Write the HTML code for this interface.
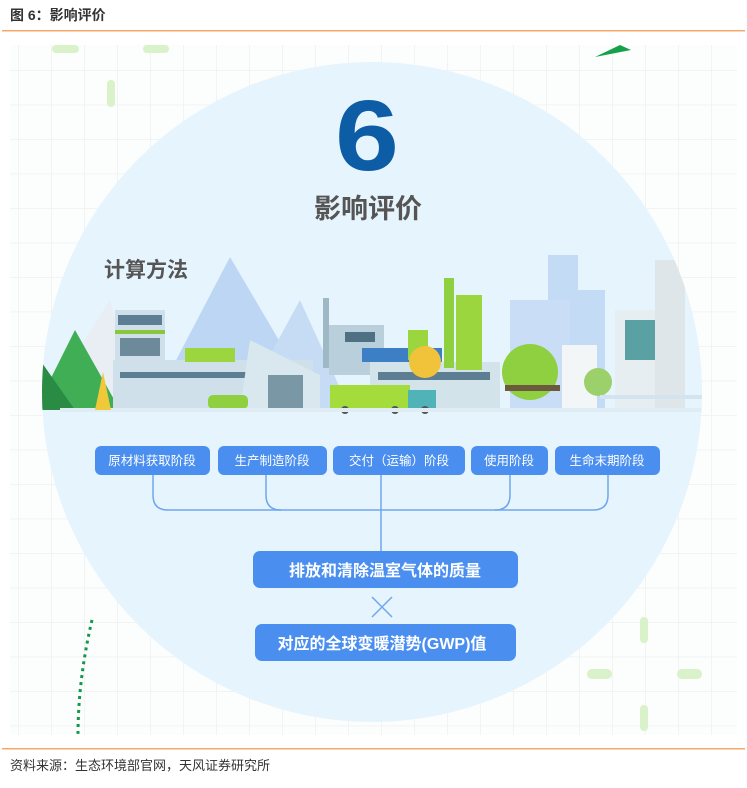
<!DOCTYPE html>
<html><head><meta charset="utf-8"><style>
body{margin:0;width:747px;height:783px;background:#fff;overflow:hidden;font-family:"Liberation Sans","Noto Sans CJK SC",sans-serif}
</style></head><body>
<svg width="747" height="783" viewBox="0 0 747 783" xmlns="http://www.w3.org/2000/svg" font-family="Liberation Sans, Noto Sans CJK SC, sans-serif">
<text x="10" y="20" font-size="14" font-weight="bold" fill="#333">图 6：影响评价</text>
<rect x="2" y="30" width="743" height="1.5" fill="#f4a86a"/>
<defs>
<pattern id="g" width="33" height="34.5" patternUnits="userSpaceOnUse" x="18" y="70"><path d="M0 0H33M0 0V34.5" stroke="#eef2f2" stroke-width="1.5" fill="none"/></pattern>
<clipPath id="c"><circle cx="372" cy="392" r="330"/></clipPath>
</defs>
<rect x="10" y="45" width="727" height="690" fill="#fcfdfd"/>
<rect x="10" y="45" width="727" height="690" fill="url(#g)"/>
<rect x="52" y="45" width="27" height="8" rx="4" fill="#d9f2c9"/>
<rect x="143" y="45" width="26" height="8" rx="4" fill="#d9f2c9"/>
<rect x="107" y="80" width="8" height="27" rx="4" fill="#d9f2c9"/>
<polygon points="595,57 620,45 631,50" fill="#16a04a"/>
<circle cx="372" cy="392" r="330" fill="#e6f4fd"/>
<rect x="640" y="617" width="8" height="26" rx="4" fill="#d9f2c9"/>
<rect x="587" y="669" width="25" height="10" rx="5" fill="#d9f2c9"/>
<rect x="677" y="669" width="25" height="10" rx="5" fill="#d9f2c9"/>
<rect x="640" y="705" width="8" height="26" rx="4" fill="#d9f2c9"/>
<path d="M92 620 Q78 680 78 735" stroke="#11994a" stroke-width="3" stroke-dasharray="3 4" fill="none"/>
<text x="0" y="0" font-size="100" font-weight="bold" fill="#0d5da6" text-anchor="middle" transform="translate(367,170) scale(1.15,1)">6</text>
<text x="368" y="218" font-size="27" font-weight="bold" fill="#555" text-anchor="middle">影响评价</text>
<text x="104" y="277" font-size="21" font-weight="bold" fill="#555">计算方法</text>
<g clip-path="url(#c)">
<polygon points="150,410 230,257 320,410" fill="#bcd6f3"/>
<polygon points="240,410 300,300 350,410" fill="#c6dcf5"/>
<polygon points="40,410 110,300 140,410" fill="#e8eef4"/>
<rect x="548" y="255" width="30" height="155" fill="#c4dbf5"/>
<rect x="510" y="300" width="60" height="110" fill="#c9ddf6"/>
<rect x="575" y="290" width="30" height="120" fill="#c4dbf5"/>
<polygon points="35,410 75,330 120,410" fill="#3fae55"/>
<polygon points="40,360 75,410 40,410" fill="#2a8b45"/>
<rect x="115" y="310" width="50" height="100" fill="#cfe0ea"/>
<rect x="118" y="315" width="44" height="10" fill="#5d7e92"/>
<rect x="115" y="330" width="50" height="4" fill="#8ac83b"/>
<rect x="120" y="338" width="40" height="18" fill="#6d8a9b"/>
<rect x="113" y="360" width="200" height="50" fill="#cfe0ea"/>
<rect x="120" y="372" width="150" height="6" fill="#5d7e92"/>
<rect x="185" y="348" width="50" height="14" fill="#9bd63e"/>
<polygon points="240,410 250,340 320,375 320,410" fill="#d8e8ee"/>
<rect x="268" y="375" width="35" height="35" fill="#7a97a6"/>
<rect x="208" y="395" width="40" height="14" rx="5" fill="#8ed040"/>
<rect x="323" y="298" width="6" height="70" fill="#9fb8c6"/>
<rect x="329" y="325" width="55" height="50" fill="#b9cfdc"/>
<rect x="345" y="332" width="30" height="10" fill="#4f6f83"/>
<rect x="362" y="348" width="80" height="14" fill="#3d7fc4"/>
<rect x="370" y="362" width="130" height="48" fill="#d3e3ea"/>
<rect x="378" y="372" width="112" height="8" fill="#5d7e92"/>
<rect x="444" y="278" width="10" height="90" fill="#8ed040"/>
<rect x="456" y="295" width="26" height="75" fill="#9bd63e"/>
<rect x="408" y="330" width="20" height="30" fill="#9bd63e"/>
<circle cx="425" cy="362" r="16" fill="#f1c33a"/>
<rect x="330" y="385" width="80" height="25" fill="#a4dc3c"/>
<rect x="408" y="390" width="28" height="18" fill="#4fb3b8"/>
<circle cx="345" cy="410" r="4" fill="#555"/><circle cx="395" cy="410" r="4" fill="#555"/><circle cx="425" cy="410" r="4" fill="#555"/>
<circle cx="530" cy="372" r="28" fill="#8ed040"/>
<rect x="505" y="385" width="55" height="6" fill="#6b5a3e"/>
<rect x="562" y="345" width="35" height="65" fill="#f3f6f7"/>
<circle cx="598" cy="382" r="14" fill="#9bd06a"/>
<rect x="615" y="310" width="45" height="100" fill="#e6eef1"/>
<rect x="625" y="320" width="30" height="40" fill="#5aa1a3"/>
<rect x="655" y="260" width="30" height="150" fill="#dfe6e9"/>
<rect x="600" y="395" width="110" height="4" fill="#d4e4ee"/>
<rect x="60" y="408" width="650" height="4" fill="#e0ecf3"/>
<polygon points="95,410 103,372 111,410" fill="#f0c93a"/>
</g>
<g font-size="12.5" fill="#fff" text-anchor="middle">
<rect x="95" y="446" width="115" height="29" rx="6" fill="#4a8ff0"/><text x="152" y="465">原材料获取阶段</text>
<rect x="218" y="446" width="109" height="29" rx="6" fill="#4a8ff0"/><text x="272" y="465">生产制造阶段</text>
<rect x="333" y="446" width="132" height="29" rx="6" fill="#4a8ff0"/><text x="399" y="465">交付（运输）阶段</text>
<rect x="471" y="446" width="77" height="29" rx="6" fill="#4a8ff0"/><text x="509" y="465">使用阶段</text>
<rect x="555" y="446" width="105" height="29" rx="6" fill="#4a8ff0"/><text x="607" y="465">生命末期阶段</text>
</g>
<g stroke="#6ea6ef" stroke-width="1.5" fill="none">
<path d="M153 475V495Q153 510 168 510H593Q608 510 608 495V475"/>
<path d="M266 475V495Q266 510 281 510"/>
<path d="M510 475V495Q510 510 495 510"/>
<path d="M381 475V551"/>
<path d="M372 597L392 617M392 597L372 617"/>
</g>
<rect x="253" y="551" width="265" height="37" rx="7" fill="#4a8ff0"/>
<text x="385" y="576" font-size="16" font-weight="bold" fill="#fff" text-anchor="middle">排放和清除温室气体的质量</text>
<rect x="255" y="624" width="261" height="37" rx="7" fill="#4a8ff0"/>
<text x="382" y="649" font-size="16" font-weight="bold" fill="#fff" text-anchor="middle">对应的全球变暖潜势(GWP)值</text>
<rect x="2" y="748" width="743" height="1.5" fill="#f4a86a"/>
<text x="10" y="770" font-size="13" fill="#333">资料来源：生态环境部官网，天风证券研究所</text>
</svg>
</body></html>
